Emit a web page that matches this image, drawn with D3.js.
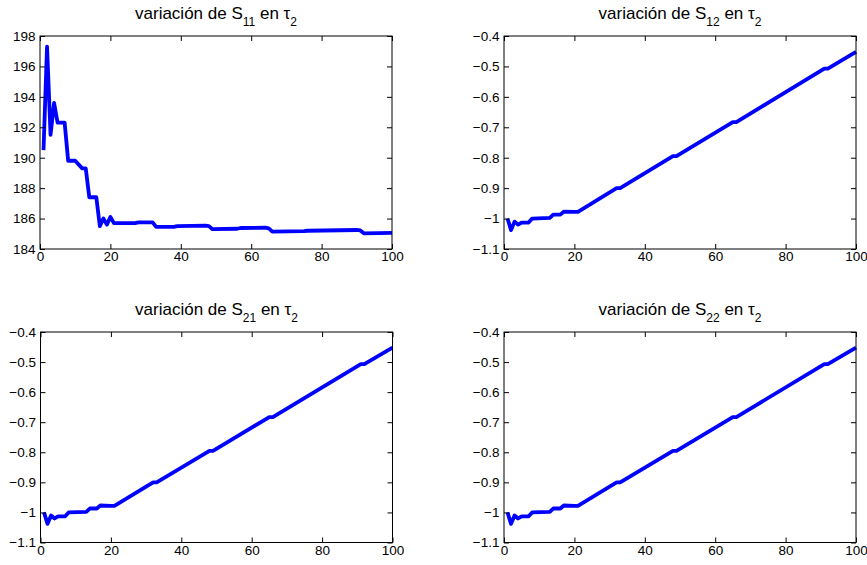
<!DOCTYPE html>
<html>
<head>
<meta charset="utf-8">
<style>
body { margin: 0; background: #fff; }
text { font-family: "Liberation Sans", Arial, Helvetica, sans-serif; fill: #000; }
.tick text { font-size: 13.5px; }
.tick line { stroke: #000; }
.title { font-size: 17px; }
</style>
<script src="https://cdn.jsdelivr.net/npm/d3@7"></script>
</head>
<body>
<svg width="867" height="565"></svg>
<script>
// tick values
var xTicks = [0, 20, 40, 60, 80, 100];
var s11Ticks = [184, 186, 188, 190, 192, 194, 196, 198];
var sTicks = [-1.1, -1, -0.9, -0.8, -0.7, -0.6, -0.5, -0.4];

// S11 readings (vertices of the curve)
var s11X = [1, 2, 3, 4, 5, 7, 8, 10, 12, 13, 14, 16, 17, 18, 19, 20, 21, 27, 28, 32,
            33, 38, 39, 47, 48, 49, 56, 57, 64, 65, 66, 75, 76, 90, 91, 92, 100];
var s11Y = [190.5, 197.3, 191.5, 193.6, 192.3, 192.3, 189.8, 189.8, 189.3, 189.3,
            187.4, 187.4, 185.5, 186.0, 185.6, 186.1, 185.7, 185.7, 185.75, 185.75,
            185.45, 185.45, 185.5, 185.53, 185.5, 185.3, 185.33, 185.38, 185.4, 185.35,
            185.14, 185.17, 185.2, 185.25, 185.22, 185.03, 185.06];

// S12, S21, S22 readings
var sX = [1, 2, 3, 4, 5, 7, 8, 13, 14, 16, 17, 20, 21, 32, 33, 48, 49, 65, 66, 91, 92, 100];
var s12Y = [-1.0, -1.038, -1.01, -1.02, -1.013, -1.013, -1.0, -0.998, -0.987, -0.987,
            -0.977, -0.978, -0.978, -0.9, -0.9, -0.795, -0.795, -0.683, -0.683, -0.507,
            -0.507, -0.452];
var s21Y = [-1.0, -1.038, -1.01, -1.02, -1.013, -1.013, -1.0, -0.998, -0.987, -0.987,
            -0.977, -0.978, -0.978, -0.9, -0.9, -0.795, -0.795, -0.683, -0.683, -0.507,
            -0.507, -0.452];
var s22Y = [-1.0, -1.038, -1.01, -1.02, -1.013, -1.013, -1.0, -0.998, -0.987, -0.987,
            -0.977, -0.978, -0.978, -0.9, -0.9, -0.795, -0.795, -0.683, -0.683, -0.507,
            -0.507, -0.452];

var svg = d3.select("svg");

var panels = [
  { left: 40, top: 36, w: 352, h: 213, sub: "11", xs: s11X, ys: s11Y, dom: [184, 198], ticks: s11Ticks },
  { left: 504, top: 36, w: 352, h: 213, sub: "12", xs: sX, ys: s12Y, dom: [-1.1, -0.4], ticks: sTicks },
  { left: 40.5, top: 332, w: 352, h: 210.5, sub: "21", xs: sX, ys: s21Y, dom: [-1.1, -0.4], ticks: sTicks },
  { left: 504, top: 332, w: 352, h: 210.5, sub: "22", xs: sX, ys: s22Y, dom: [-1.1, -0.4], ticks: sTicks }
];

function fmt(d) { return String(d).replace("-", "\u2212"); }

panels.forEach(function(p) {
  var g = svg.append("g").attr("transform", "translate(" + p.left + "," + p.top + ")");
  var x = d3.scaleLinear().domain([0, 100]).range([0, p.w]);
  var y = d3.scaleLinear().domain(p.dom).range([p.h, 0]);

  // data line
  var pts = p.xs.map(function(v, i) { return [v, p.ys[i]]; });
  g.append("path")
    .datum(pts)
    .attr("fill", "none")
    .attr("stroke", "#0000ff")
    .attr("stroke-width", 3.8)
    .attr("stroke-linejoin", "round")
    .attr("d", d3.line().x(function(d) { return x(d[0]); }).y(function(d) { return y(d[1]); }));

  // axes, ticks inward like matlab
  g.append("g").attr("transform", "translate(0," + p.h + ")")
    .call(d3.axisBottom(x).tickValues(xTicks).tickSize(-5).tickSizeOuter(0).tickPadding(2.5).tickFormat(fmt))
    .call(function(a) { a.select(".domain").remove(); a.selectAll("text").attr("font-family", null).attr("font-size", null); });
  g.append("g")
    .call(d3.axisLeft(y).tickValues(p.ticks).tickSize(-5).tickSizeOuter(0).tickPadding(4.5).tickFormat(fmt))
    .call(function(a) { a.select(".domain").remove(); a.selectAll("text").attr("font-family", null).attr("font-size", null); });
  g.append("g")
    .call(d3.axisTop(x).tickValues(xTicks).tickSize(-5).tickSizeOuter(0).tickFormat(""))
    .call(function(a) { a.select(".domain").remove(); });
  g.append("g").attr("transform", "translate(" + p.w + ",0)")
    .call(d3.axisRight(y).tickValues(p.ticks).tickSize(-5).tickSizeOuter(0).tickFormat(""))
    .call(function(a) { a.select(".domain").remove(); });

  g.append("rect")
    .attr("width", p.w).attr("height", p.h)
    .attr("fill", "none").attr("stroke", "#000").attr("stroke-width", 1);

  // title with subscripts
  var t = g.append("text").attr("class", "title")
    .attr("x", p.w / 2).attr("y", -17).attr("text-anchor", "middle");
  t.append("tspan").text("variación de S");
  t.append("tspan").attr("font-size", 12).attr("dy", 7).text(p.sub);
  t.append("tspan").attr("dy", -7).text(" en \u03c4");
  t.append("tspan").attr("font-size", 12).attr("dy", 7).text("2");
});
</script>
</body>
</html>
